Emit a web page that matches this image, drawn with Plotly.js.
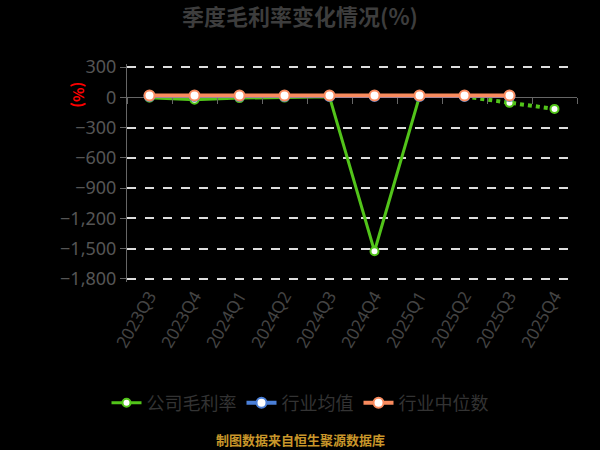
<!DOCTYPE html>
<html>
<head>
<meta charset="utf-8">
<script src="https://cdn.plot.ly/plotly-3.0.1.min.js"></script>
<style>html,body{margin:0;padding:0;background:#000;}#chart{width:600px;height:450px;}</style>
</head>
<body>
<div id="chart"></div>
<script>
const quarters = ["2023Q3","2023Q4","2024Q1","2024Q2","2024Q3","2024Q4","2025Q1","2025Q2","2025Q3","2025Q4"];
const companyMargin = [-5, -25, -8, -3, 5, -1525, 10, 8, -55, -115];
const industryMean = [12, 12, 13, 12, 12, 12, 12, 12, 12, null];
const industryMedian = [18, 18, 19, 18, 18, 18, 18, 18, 18, null];
const seriesNames = ["公司毛利率", "行业均值", "行业中位数"];
const yTicks = [300, 0, -300, -600, -900, -1200, -1500, -1800];
const boundaries = [-0.5, 0.5, 1.5, 2.5, 3.5, 4.5, 5.5, 6.5, 7.5, 8.5, 9.5];

const green = "#52c41a", blue = "#4a7fd8", orange = "#f98b5e";
const solidEnd = 8; // solid through 2025Q2, dotted after

const traces = [
  {
    x: quarters.slice(0, solidEnd), y: companyMargin.slice(0, solidEnd),
    name: seriesNames[0], type: "scatter", mode: "lines+markers",
    line: {color: green, width: 3},
    marker: {color: "#fff", size: 8, line: {color: green, width: 2}}
  },
  {
    x: quarters.slice(solidEnd - 1), y: companyMargin.slice(solidEnd - 1),
    name: seriesNames[0], type: "scatter", mode: "lines+markers",
    line: {color: green, width: 4, dash: "dot"},
    marker: {color: "#fff", size: 8, line: {color: green, width: 2}},
    showlegend: false
  },
  {
    x: quarters, y: industryMean,
    name: seriesNames[1], type: "scatter", mode: "lines+markers",
    line: {color: blue, width: 4},
    marker: {color: "#fff", size: 10, line: {color: blue, width: 2}}
  },
  {
    x: quarters, y: industryMedian,
    name: seriesNames[2], type: "scatter", mode: "lines+markers",
    line: {color: orange, width: 4},
    marker: {color: "#fff", size: 10, line: {color: orange, width: 2}}
  },
  {
    x: [0], y: [0], xaxis: "x2", type: "scatter", mode: "markers",
    marker: {opacity: 0}, showlegend: false, hoverinfo: "skip"
  }
];

const yMin = -1830, yMax = 330;
const layout = {
  width: 600, height: 450,
  paper_bgcolor: "#000", plot_bgcolor: "#000",
  margin: {l: 127, r: 23, t: 64, b: 168},
  font: {family: "'Open Sans', 'Noto Sans CJK SC', sans-serif", color: "#555"},
  title: {
    text: "<b>季度毛利率变化情况(%)</b>",
    font: {family: "'Noto Sans CJK SC', sans-serif", size: 22, color: "#3d3d3d"},
    x: 0.5, xanchor: "center", y: 0.962, yanchor: "middle"
  },
  xaxis: {
    type: "category", range: [-0.5, 9.5],
    showgrid: false, showline: false, zeroline: false, ticks: "",
    tickangle: -60, tickfont: {family: "'Noto Sans', sans-serif", size: 17, color: "#444"}
  },
  xaxis2: {
    overlaying: "x", anchor: "free", position: (0 - yMin) / (yMax - yMin),
    range: [-0.5, 9.5], showline: false, showgrid: false, zeroline: false,
    tickmode: "array", tickvals: boundaries, ticks: "outside", ticklen: 6,
    tickcolor: "#666", tickwidth: 1, showticklabels: false
  },
  yaxis: {
    range: [yMin, yMax], tickmode: "array", tickvals: yTicks,
    tickformat: ",", showline: true, linecolor: "#666", linewidth: 1,
    ticks: "outside", ticklen: 6, tickcolor: "#666",
    showgrid: true, gridcolor: "#ddd", griddash: "dash", gridwidth: 2,
    zeroline: true, zerolinecolor: "#666", zerolinewidth: 1,
    tickfont: {family: "'Noto Sans', sans-serif", size: 18, color: "#555"}
  },
  legend: {
    orientation: "h", x: (300 - 127) / 450, xanchor: "center", y: -0.555, yanchor: "middle",
    font: {family: "'Noto Sans CJK SC', sans-serif", size: 18, color: "#333"},
    bgcolor: "rgba(0,0,0,0)", traceorder: "normal"
  },
  annotations: [
    {
      text: "<b>(%)</b>", xref: "paper", yref: "paper", x: -0.105, y: 0.86,
      xanchor: "center", yanchor: "middle",
      showarrow: false, textangle: 90,
      font: {family: "'Noto Sans CJK SC', sans-serif", size: 15, color: "#ff0000"}
    },
    {
      text: "<b>制图数据来自恒生聚源数据库</b>", xref: "paper", yref: "paper",
      x: (300 - 127) / 450, y: -0.722, xanchor: "center", yanchor: "middle",
      showarrow: false,
      font: {family: "'Noto Sans CJK SC', sans-serif", size: 13, color: "#c8962a"}
    }
  ],
  showlegend: true
};

Plotly.newPlot("chart", traces, layout, {displayModeBar: false, staticPlot: true});
</script>
</body>
</html>
